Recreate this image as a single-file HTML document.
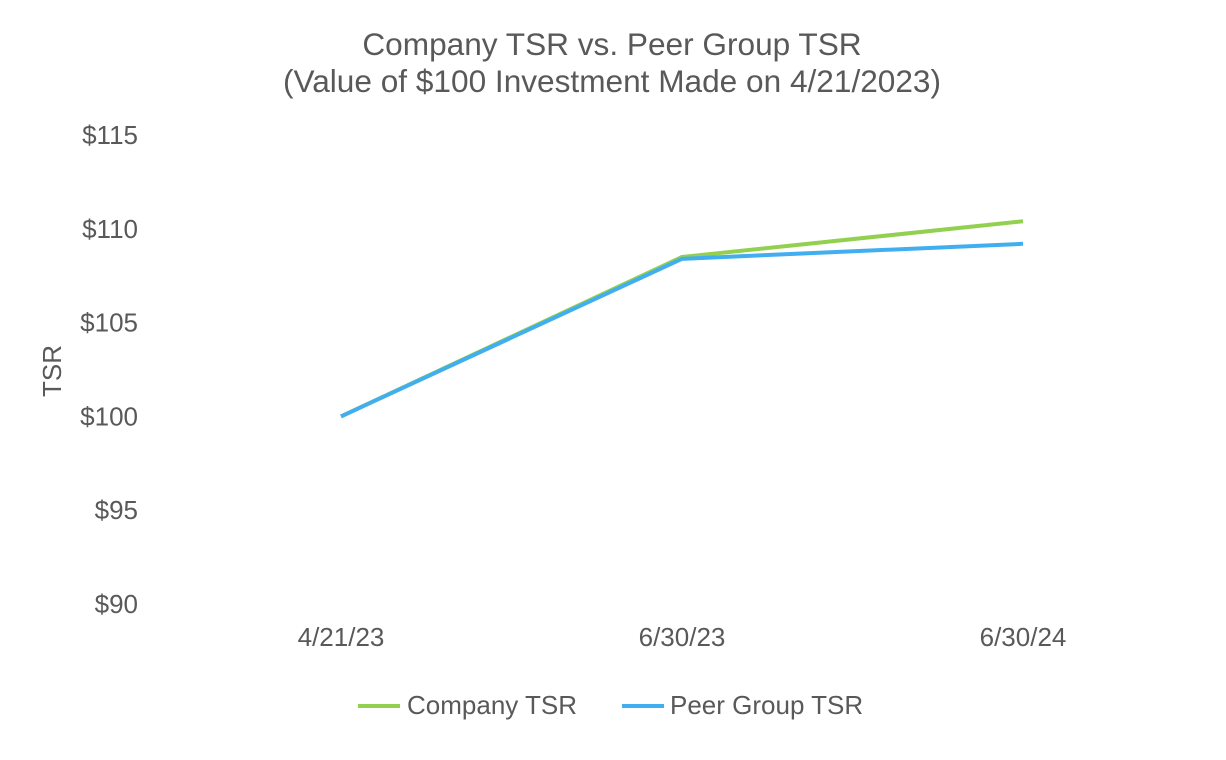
<!DOCTYPE html>
<html><head><meta charset="utf-8"><style>
html,body{margin:0;padding:0;background:#fff;}
svg{display:block;font-family:"Liberation Sans",Arial,sans-serif;}
</style></head><body>
<svg id="chart" width="1226" height="760">
<text x="612" y="55" text-anchor="middle" font-size="31.6" fill="#595959">Company TSR vs. Peer Group TSR</text>
<text x="612" y="92" text-anchor="middle" font-size="31.6" fill="#595959">(Value of $100 Investment Made on 4/21/2023)</text>
<text transform="translate(61,371) rotate(-90)" text-anchor="middle" font-size="26" fill="#595959">TSR</text>
<g id="yt"></g><g id="xt"></g><g id="lines"></g>
<g>
<line x1="358" y1="706" x2="400" y2="706" stroke="#92d050" stroke-width="4"/>
<text x="407" y="714" font-size="26" fill="#595959">Company TSR</text>
<line x1="622" y1="706" x2="664" y2="706" stroke="#41aef0" stroke-width="4"/>
<text x="670" y="714" font-size="26" fill="#595959">Peer Group TSR</text>
</g>
</svg>
<script>
const categories=["4/21/23","6/30/23","6/30/24"];
const companyTSR=[100,108.5,110.4];
const peerTSR=[100,108.4,109.2];
const yTicks=[90,95,100,105,110,115];
const NS="http://www.w3.org/2000/svg";
function y(v){return 604-(v-90)*(604-135)/25;}
function x(i){return 341+i*341;}
function mk(t,a,p){const e=document.createElementNS(NS,t);for(const k in a)e.setAttribute(k,a[k]);p.appendChild(e);return e;}
const yt=document.getElementById('yt');
yTicks.forEach(v=>{const t=mk('text',{x:138,y:y(v)+9,'text-anchor':'end','font-size':26,fill:'#595959'},yt);t.textContent='$'+v;

});
const xt=document.getElementById('xt');
categories.forEach((c,i)=>{const t=mk('text',{x:x(i),y:646,'text-anchor':'middle','font-size':26,fill:'#595959'},xt);t.textContent=c;

});
const lg=document.getElementById('lines');
function series(d,col,name){const p=mk('polyline',{points:d.map((v,i)=>x(i)+','+y(v)).join(' '),fill:'none',stroke:col,'stroke-width':4,'stroke-linejoin':'round'},lg);

}
series(companyTSR,'#92d050','company-tsr-line');
series(peerTSR,'#41aef0','peer-tsr-line');
</script>
</body></html>
